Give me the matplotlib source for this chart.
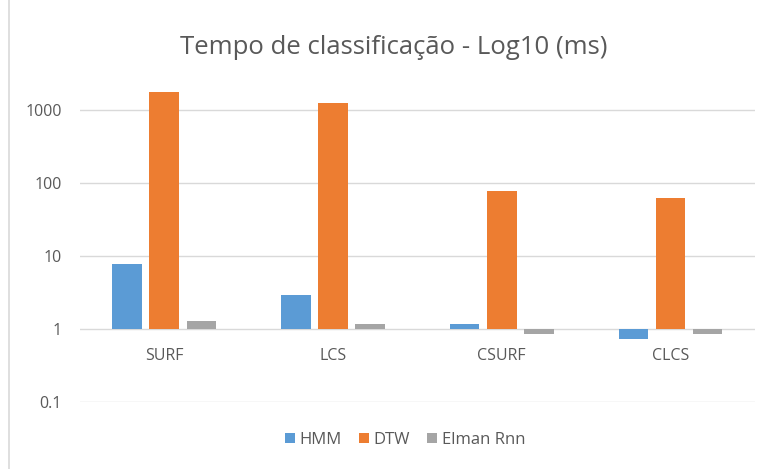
import matplotlib
matplotlib.use("Agg")
import matplotlib.pyplot as plt
from matplotlib.lines import Line2D
import numpy as np

categories = ["SURF", "LCS", "CSURF", "CLCS"]
series_names = ["HMM", "DTW", "Elman Rnn"]
hmm = [7.7, 2.88, 1.16, 0.74]
dtw = [1750, 1235, 79, 62]
elman = [1.29, 1.16, 0.86, 0.86]
ytick_vals = [0.1, 1, 10, 100, 1000]
ytick_labels = ["0.1", "1", "10", "100", "1000"]
colors = ["#5B9BD5", "#ED7D31", "#A5A5A5"]

plt.rcParams['font.family'] = ['Open Sans', 'DejaVu Sans']
txt = "#595959"

fig = plt.figure(figsize=(7.68, 4.69), dpi=100)
ax = fig.add_axes([0.104, 0.143, 0.879, 0.700])
ax.set_yscale("log")
ax.set_ylim(0.1, 10**3.5)
ax.set_xlim(-0.5, len(categories) - 0.5)

x = np.arange(len(categories))
width = 0.175
offset = 0.22
for k, (vals, name) in enumerate(zip([hmm, dtw, elman], series_names)):
    v = np.array(vals)
    ax.bar(x + (k - 1) * offset, v - 1, bottom=1, width=width,
           color=colors[k], label=name, zorder=3)

ax.set_yticks(ytick_vals)
ax.set_yticklabels(ytick_labels)
ax.minorticks_off()
ax.tick_params(axis="y", length=0, labelsize=11.5, colors=txt, pad=13)
ax.set_xticks([])
ax.grid(axis="y", color="#D9D9D9", linewidth=1, zorder=0)
for s in ax.spines.values():
    s.set_visible(False)

for i, c in enumerate(categories):
    ax.annotate(c, (i, 1), xytext=(0, -27), textcoords="offset pixels",
                ha="center", va="center", fontsize=11.5, color=txt)

fig.text(394 / 768, 1 - 48 / 469, "Tempo de classificação - Log10 (ms)",
         ha="center", va="center", fontsize=18.5, color=txt)

leg = fig.legend(loc="center", bbox_to_anchor=(405 / 768, 1 - 440 / 469), ncol=3,
                 frameon=False, fontsize=12, handlelength=0.6, handleheight=0.6,
                 handletextpad=0.3, columnspacing=1.0)
for t in leg.get_texts():
    t.set_color(txt)

fig.add_artist(Line2D([9 / 768, 9 / 768], [0, 1], color="#D9D9D9", linewidth=1.2,
                      transform=fig.transFigure))

fig.savefig("out.png", dpi=100)
